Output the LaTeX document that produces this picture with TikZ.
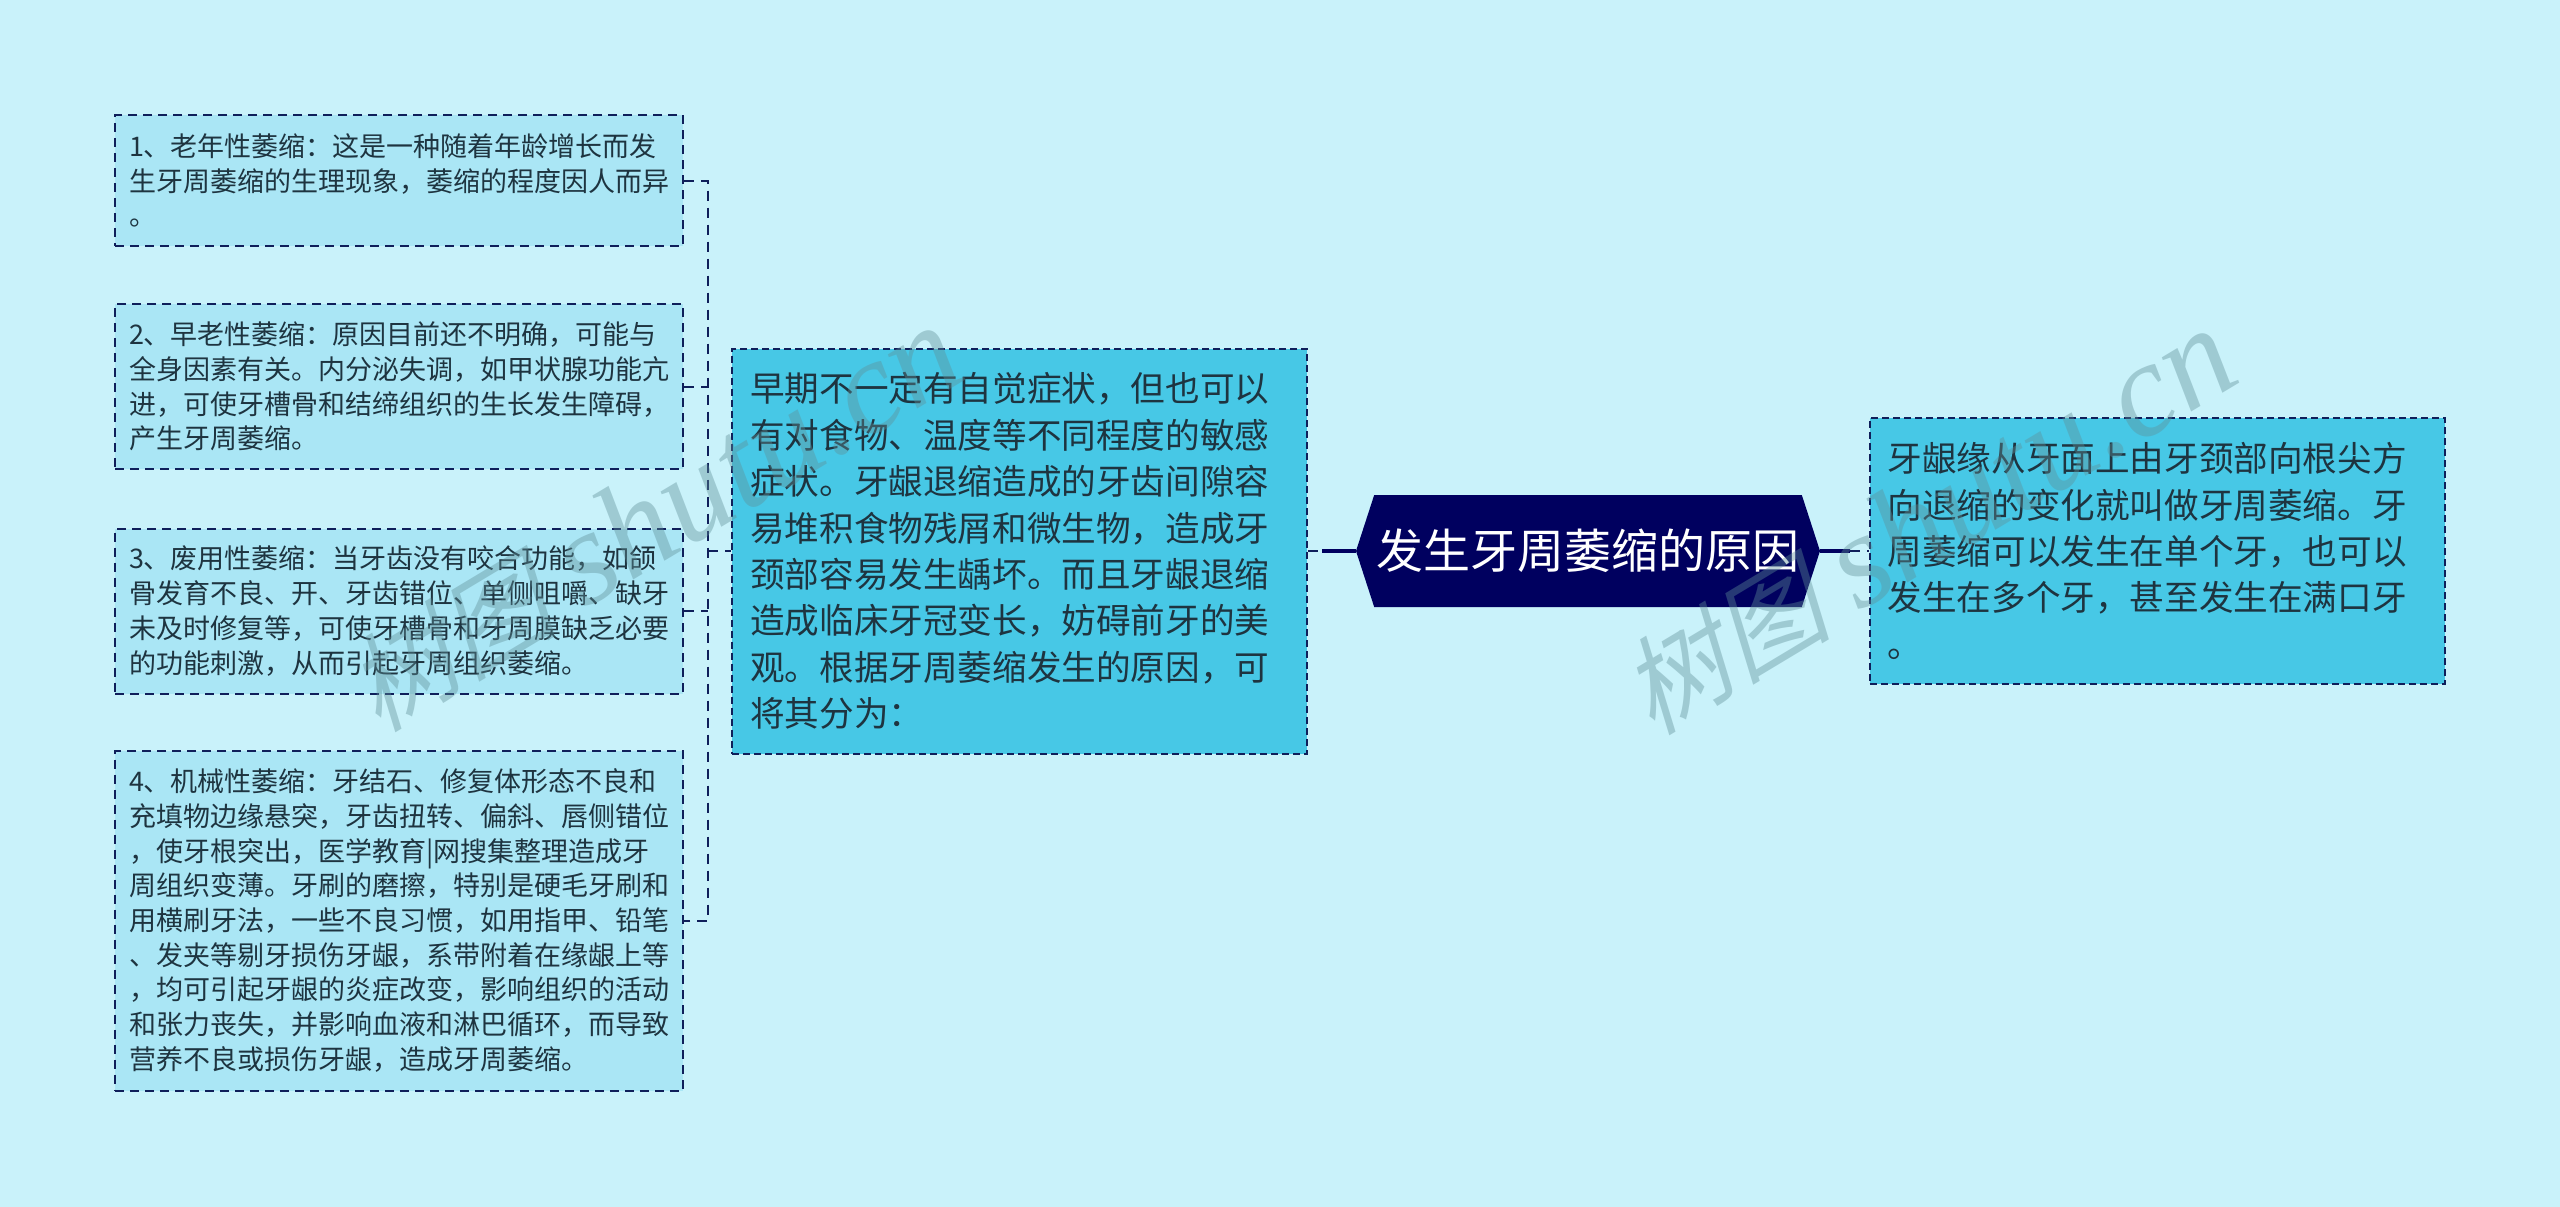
\documentclass[tikz,border=0pt]{standalone}
\usepackage{fontspec}
\setmainfont{Noto Sans CJK SC}
\newfontfamily\markcjk[FakeSlant=0.25]{Noto Sans CJK SC}
\newfontfamily\marklatin{Liberation Serif}
\usetikzlibrary{positioning,shapes.symbols}
\definecolor{bgblue}{HTML}{C9F2FA}
\definecolor{midblue}{HTML}{47C8E6}
\definecolor{leafblue}{HTML}{AAE6F5}
\definecolor{navy}{HTML}{00005F}
\definecolor{inkblue}{HTML}{0F1F5A}
\definecolor{textink}{HTML}{1E3440}
\definecolor{markgrey}{HTML}{5F8F98}
\newcommand{\dou}{^^^^ff0c}
\newcommand{\mao}{^^^^ff1a}
\newcommand{\marktext}{{\markcjk\fontsize{106}{130}\selectfont 树图}\hspace{28pt}{\marklatin\itshape\fontsize{134}{130}\selectfont shutu.cn}}
\begin{document}
\begin{tikzpicture}[x=1pt,y=-1pt]
			\tikzstyle{rootbox}=[signal,signal to=west and east,signal from=nowhere,signal pointer angle=144,fill=navy,text=white,inner sep=0pt,minimum width=464pt,minimum height=112pt,font=\fontsize{47}{56}\selectfont]
			\tikzstyle{midbox}=[draw=inkblue,fill=midblue,text=textink,line width=2pt,dash pattern=on 7pt off 4pt,minimum width=575pt,align=left,text width=539pt,inner xsep=17pt,inner ysep=14pt,font=\fontsize{34.6}{46.4}\selectfont]
			\tikzstyle{leaf}=[draw=inkblue,fill=leafblue,text=textink,line width=2pt,dash pattern=on 9pt off 6pt,minimum width=568pt,align=left,text width=540pt,inner xsep=13pt,inner ysep=10pt,font=\fontsize{27}{34.7}\selectfont]
			\tikzstyle{link}=[draw=inkblue,line width=2pt,dash pattern=on 10pt off 7pt]
			\tikzstyle{rootlink}=[draw=navy,line width=4pt]
			\tikzstyle{stamp}=[text=markgrey,opacity=0.4,rotate=31,inner sep=0pt]
			
			\fill[bgblue] (0,0) rectangle (2560,1207);
			\useasboundingbox (0,0) rectangle (2560,1207);
			
			\node[rootbox] (R) at (1588,551) {发生牙周萎缩的原因};
			\node[midbox,minimum height=405pt] (M) [left=47.5pt of R] {早期不一定有自觉症状\dou 但也可以\\有对食物、温度等不同程度的敏感\\症状。牙龈退缩造成的牙齿间隙容\\易堆积食物残屑和微生物\dou 造成牙\\颈部容易发生龋坏。而且牙龈退缩\\造成临床牙冠变长\dou 妨碍前牙的美\\观。根据牙周萎缩发生的原因\dou 可\\将其分为\mao};
			\node[midbox,minimum height=266pt] (N) [right=48.5pt of R] {牙龈缘从牙面上由牙颈部向根尖方\\向退缩的变化就叫做牙周萎缩。牙\\周萎缩可以发生在单个牙\dou 也可以\\发生在多个牙\dou 甚至发生在满口牙\\。};
			\node[leaf,minimum height=131pt] (A) at (399,180.5) {1、老年性萎缩\mao 这是一种随着年龄增长而发\\生牙周萎缩的生理现象\dou 萎缩的程度因人而异\\。};
			\node[leaf,minimum height=165pt] (B) [below=56pt of A] {2、早老性萎缩\mao 原因目前还不明确\dou 可能与\\全身因素有关。内分泌失调\dou 如甲状腺功能亢\\进\dou 可使牙槽骨和结缔组织的生长发生障碍\dou\\产生牙周萎缩。};
			\node[leaf,minimum height=165pt] (C) [below=57.5pt of B] {3、废用性萎缩\mao 当牙齿没有咬合功能\dou 如颌\\骨发育不良、开、牙齿错位、单侧咀嚼、缺牙\\未及时修复等\dou 可使牙槽骨和牙周膜缺乏必要\\的功能刺激\dou 从而引起牙周组织萎缩。};
			\node[leaf,minimum height=340pt] (D) [below=55pt of C] {4、机械性萎缩\mao 牙结石、修复体形态不良和\\充填物边缘悬突\dou 牙齿扭转、偏斜、唇侧错位\\\dou 使牙根突出\dou 医学教育|网搜集整理造成牙\\周组织变薄。牙刷的磨擦\dou 特别是硬毛牙刷和\\用横刷牙法\dou 一些不良习惯\dou 如用指甲、铅笔\\、发夹等剔牙损伤牙龈\dou 系带附着在缘龈上等\\\dou 均可引起牙龈的炎症改变\dou 影响组织的活动\\和张力丧失\dou 并影响血液和淋巴循环\dou 而导致\\营养不良或损伤牙龈\dou 造成牙周萎缩。};
			
			\coordinate (T) at (708,551);
			\coordinate (P) at (1322,551);
			\coordinate (Q) at (1850,551);
			\draw[link] (A.east) -| (T) |- (D.east);
			\foreach \n in {B,C}
				\draw[link] (\n.east) -- (\n.east -| T);
			\draw[link] (T) -- (M.west);
			\draw[link] (M.east) -- (P);
			\draw[rootlink] (P) -- (R.west);
			\draw[rootlink] (R.east) -- (Q);
			\draw[link] (Q) -- (N.west);
			
			\node[stamp] (W) at (653,519) {\marktext};
			\node[stamp] (X) at (1927,522) {\marktext};
			
			\end{tikzpicture}
\end{document}
